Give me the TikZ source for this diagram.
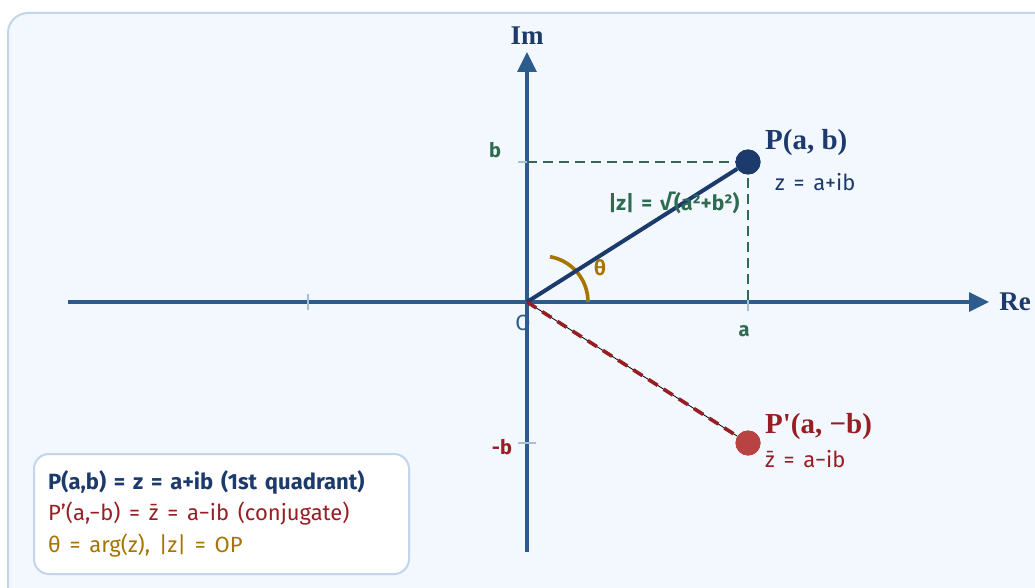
\documentclass[tikz,border=0pt]{standalone}
\usepackage{fontspec}
\setmainfont{Fira Sans}[WordSpace=1.5]
\newfontfamily\titleserif{Liberation Serif}
\usetikzlibrary{arrows.meta,positioning,calc}
\definecolor{panelfill}{HTML}{F3F7FE}
\definecolor{panelline}{HTML}{C3D5EA}
\definecolor{axisblue}{HTML}{2C5B8C}
\definecolor{tickblue}{HTML}{A6BED8}
\definecolor{navy}{HTML}{1C3A6C}
\definecolor{darkred}{HTML}{971E22}
\definecolor{dotred}{HTML}{B94242}
\definecolor{green}{HTML}{2E6C52}
\definecolor{gold}{HTML}{A67400}
\newcommand{\fs}[1]{\fontsize{#1}{#1}\selectfont}
\tikzset{
  every node/.style={font=\fs{21},inner sep=0pt},
  panel/.style={draw=panelline,line width=2pt,fill=panelfill,rounded corners=20pt},
  axis/.style={draw=axisblue,line width=3.2pt,-{Triangle[length=20pt,width=19pt]}},
  tick/.style={draw=tickblue,line width=1.8pt},
  axislabel/.style={font=\fs{27}\titleserif\bfseries,text=navy},
  ptlabel/.style={font=\fs{29}\titleserif\bfseries},
  modulus/.style={draw=navy,line width=4pt},
  conjline/.style={draw=darkred,line width=3.6pt,dash pattern=on 11pt off 7pt},
  guide/.style={draw=green,line width=2.6pt,dash pattern=on 10pt off 6pt},
  anglearc/.style={draw=gold,line width=3.6pt},
  pdot/.style={circle,fill=navy,minimum size=25pt},
  cdot/.style={circle,fill=dotred,minimum size=25pt},
  ticklabel/.style={font=\fs{20}\bfseries},
  keyline/.style={anchor=west,font=\fs{22}},
  legend/.style={draw=panelline,line width=2pt,fill=white,rounded corners=15pt,
    minimum width=375pt,minimum height=120pt,anchor=north west},
}
\begin{document}
\begin{tikzpicture}[x=1pt,y=-1pt]
\useasboundingbox (0,0) rectangle (1035,588);
\clip (0,0) rectangle (1035,588);
\draw[panel] (8,13) rectangle (1070,620);

% axes
\coordinate (O) at (527,302);
\coordinate (xneg) at (68,302);
\coordinate (xpos) at (989,302);
\coordinate (yneg) at (527,552);
\coordinate (ypos) at (527,52);
\draw[axis] (xneg) -- (xpos);
\draw[axis] (yneg) -- (ypos);
\node[axislabel] (re) at (1015,302) {Re};
\node[axislabel] (im) at (527,36) {Im};

% ticks
\coordinate (T) at (308,302);
\coordinate (A) at (748,302);
\coordinate (B) at (527,162);
\coordinate (Bn) at (527,443);
\draw[tick] ($(T)+(0,-8)$) -- ($(T)+(0,8)$);
\draw[tick] ($(A)+(0,-8)$) -- ($(A)+(0,9)$);
\draw[tick] ($(B)+(-9,0)$) -- ($(B)+(9,0)$);
\draw[tick] ($(Bn)+(-9,0)$) -- ($(Bn)+(9,0)$);

% points
\node[pdot] (P) at (748,162) {};
\node[cdot] (Pc) at (748,443) {};

\draw[guide] (B) -- (P.center);
\draw[guide] (P.center) -- (A);

% angle
\draw[anglearc] ($(O)+(61,0)$) arc[start angle=0,end angle=-80,radius=46];
\node[font=\fs{21}\bfseries,text=gold] (theta) at (600,268) {θ};

% vectors
\draw[modulus] (O) -- (P);
\draw[black,line width=0.8pt] (O) -- (Pc);
\draw[conjline] (O) -- (Pc);
\node[pdot] at (P) {};
\node[cdot] at (Pc) {};

\node[font=\fs{21}\bfseries,text=green] (mod) at (674,203) {|z| = √(a²+b²)};

\node[ptlabel,text=navy,anchor=west] (plab) at (765,143) {P(a, b)};
\node[text=navy,font=\fs{22},anchor=west] (pz) at (775,182) {z = a+ib};
\node[ptlabel,text=darkred,anchor=west] (pclab) at (765,427) {P'(a, −b)};
\node[text=darkred,font=\fs{22},anchor=west] (pcz) at (765,459) {z̄ = a−ib};

\node[text=axisblue,font=\fs{22}] (olab) at (523,323) {O};
\node[ticklabel,text=green] (alab) at (744,331) {a};
\node[ticklabel,text=green] (blab) at (495,150) {b};
\node[ticklabel,text=darkred] (bnlab) at (502,447) {-b};

% legend
\node[legend] (key) at (33,453) {};
\node[keyline,font=\fs{22}\bfseries,text=navy] (k1) at (48,482) {P(a,b) = z = a+ib (1st quadrant)};
\node[keyline,text=darkred] (k2) at (48,514) {P'(a,−b) = z̄ = a−ib (conjugate)};
\node[keyline,text=gold] (k3) at (48,546) {θ = arg(z), |z| = OP};
\end{tikzpicture}
\end{document}
